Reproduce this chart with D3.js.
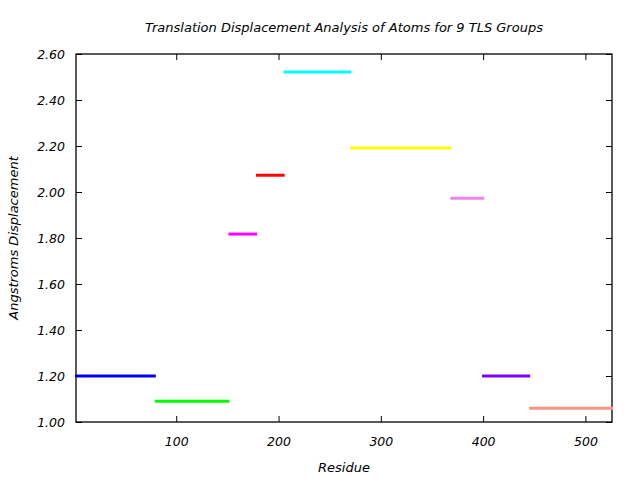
<!DOCTYPE html>
<html>
<head>
<meta charset="utf-8">
<script src="https://cdn.jsdelivr.net/npm/d3@7"></script>
<style>
  html, body { margin: 0; padding: 0; background: #fff; }
  text { font-family: "DejaVu Sans", sans-serif; font-style: italic; }
</style>
</head>
<body>
<svg id="chart" width="640" height="480"></svg>
<script>
const groups = ["TLS 1", "TLS 2", "TLS 3", "TLS 4", "TLS 5", "TLS 6", "TLS 7", "TLS 8", "TLS 9"];
const startResidue = [1, 79, 151, 178, 205, 270, 368, 399, 445];
const endResidue   = [80, 152, 179, 206, 271, 369, 401, 446, 527];
const displacement = [1.20, 1.09, 1.817, 2.073, 2.522, 2.191, 1.973, 1.20, 1.06];
const colors = ["#0000f0", "#00ff00", "#ff00ff", "#ff0000", "#00ffff", "#ffff00", "#ee82ee", "#8000ff", "#fa9580"];
const xTicks = [100, 200, 300, 400, 500];
const yTicks = [1.00, 1.20, 1.40, 1.60, 1.80, 2.00, 2.20, 2.40, 2.60];

const svg = d3.select("#chart");
const L = 76, R = 612, T = 54, B = 422;
const x = d3.scaleLinear().domain([2, 526]).range([L, R]);
const y = d3.scaleLinear().domain([1.0, 2.6]).range([B, T]);

// bottom axis
svg.append("g").attr("transform", `translate(0,${B})`)
  .call(d3.axisBottom(x).tickValues(xTicks).tickSizeInner(-6).tickSizeOuter(0).tickPadding(15).tickFormat(d3.format("d")))
  .call(g => { g.select(".domain").remove(); g.selectAll("text").style("font-size", "12.5px").attr("fill", "#000"); });
// top ticks
svg.append("g").attr("transform", `translate(0,${T})`)
  .call(d3.axisTop(x).tickValues(xTicks).tickSizeInner(-6).tickSizeOuter(0).tickFormat(""))
  .call(g => g.select(".domain").remove());
// left axis
svg.append("g").attr("transform", `translate(${L},0)`)
  .call(d3.axisLeft(y).tickValues(yTicks).tickSizeInner(-6).tickSizeOuter(0).tickPadding(11).tickFormat(d3.format(".2f")))
  .call(g => { g.select(".domain").remove(); g.selectAll("text").style("font-size", "12.5px").attr("fill", "#000"); });
// right ticks
svg.append("g").attr("transform", `translate(${R},0)`)
  .call(d3.axisRight(y).tickValues(yTicks).tickSizeInner(-6).tickSizeOuter(0).tickFormat(""))
  .call(g => g.select(".domain").remove());

svg.selectAll(".tick line").attr("stroke", "#000").attr("stroke-width", 1);

// frame
svg.append("rect").attr("x", L).attr("y", T).attr("width", R - L).attr("height", B - T)
  .attr("fill", "none").attr("stroke", "#000").attr("stroke-width", 1.3);

// segments
svg.append("g").selectAll("line").data(groups).join("line")
  .attr("x1", (d, i) => x(startResidue[i]))
  .attr("x2", (d, i) => x(endResidue[i]))
  .attr("y1", (d, i) => y(displacement[i]))
  .attr("y2", (d, i) => y(displacement[i]))
  .attr("stroke", (d, i) => colors[i])
  .attr("stroke-width", 3);

// title and labels
svg.append("text").attr("x", 344).attr("y", 32).attr("text-anchor", "middle")
  .style("font-size", "13px").text("Translation Displacement Analysis of Atoms for 9 TLS Groups");
svg.append("text").attr("x", 344).attr("y", 472).attr("text-anchor", "middle")
  .style("font-size", "13px").text("Residue");
svg.append("text").attr("transform", "translate(18,238) rotate(-90)").attr("text-anchor", "middle")
  .style("font-size", "13px").text("Angstroms Displacement");
</script>
</body>
</html>
